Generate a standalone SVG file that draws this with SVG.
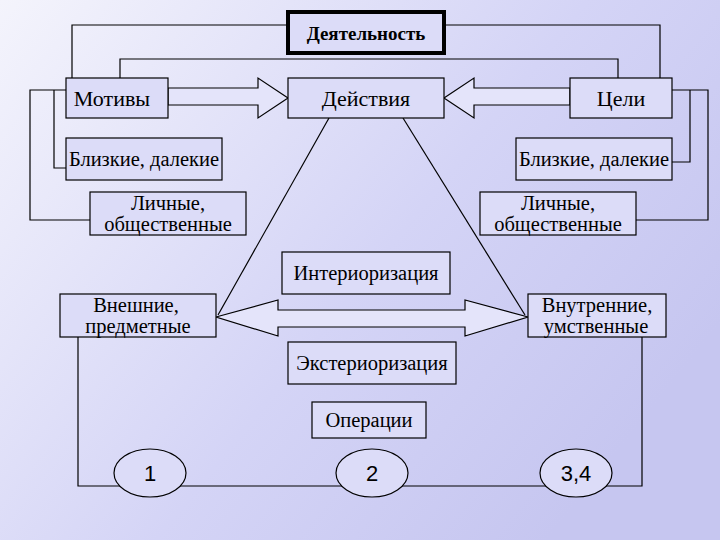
<svg xmlns="http://www.w3.org/2000/svg" width="720" height="540" viewBox="0 0 720 540">
<defs>
<linearGradient id="bg" x1="0" y1="0" x2="1" y2="0.6">
<stop offset="0" stop-color="#f4f4fc"/><stop offset="0.6" stop-color="#d4d4f6"/><stop offset="1" stop-color="#c6c6f0"/>
</linearGradient>
</defs>
<style>
.b{fill:#dcdcf8;stroke:#000;stroke-width:1.2}
.t{font-family:'Liberation Serif','DejaVu Serif',serif;font-size:20.5px;fill:#000;text-anchor:middle}
.c{fill:none;stroke:#000;stroke-width:1.2}
.n{font-family:'Liberation Sans',sans-serif;font-size:22px;fill:#000;text-anchor:middle}
</style>
<rect width="720" height="540" fill="url(#bg)"/>
<g id="connectors">
<polyline class="c" points="288,25 72,25 72,78"/>
<polyline class="c" points="444,25 660,25 660,78"/>
<polyline class="c" points="120,78 120,59 618,59 618,78"/>
<polyline class="c" points="66,90 30,90 30,220 90,220"/>
<polyline class="c" points="54,90 54,168 66,168"/>
<polyline class="c" points="672,90 708,90 708,220 636,220"/>
<polyline class="c" points="690,90 690,162 672,162"/>
<line class="c" x1="329" y1="118" x2="218" y2="315"/>
<line class="c" x1="403" y1="118" x2="525" y2="315"/>
<polygon class="c" points="168,88 258,88 258,78 288,98 258,118 258,105 168,105" style="fill:#e4e4fa"/>
<polygon class="c" points="570,88 474,88 474,78 444,98 474,118 474,105 570,105" style="fill:#e4e4fa"/>
<polygon class="c" points="216,317 278,300 278,310 465,310 465,300 528,317 465,336 465,327 278,327 278,336" style="fill:#e4e4fa"/>
<polyline class="c" points="78,337 78,486 642,486 642,337"/>
</g>
<g id="deyatelnost"><rect class="b" x="288" y="12" width="156" height="41" style="stroke-width:4"/><text class="t" x="366" y="40" font-weight="bold" style="font-size:19px">Деятельность</text></g>
<g id="motivy"><rect class="b" x="66" y="78" width="102" height="40"/><text class="t" x="112" y="106" style="font-size:22px">Мотивы</text></g>
<g id="deystviya"><rect class="b" x="288" y="78" width="156" height="40"/><text class="t" x="366" y="106" style="font-size:22px">Действия</text></g>
<g id="tseli"><rect class="b" x="570" y="78" width="102" height="40"/><text class="t" x="621" y="106" style="font-size:22px">Цели</text></g>
<g id="blizkie-l"><rect class="b" x="66" y="138" width="156" height="42"/><text class="t" x="144" y="166">Близкие, далекие</text></g>
<g id="blizkie-r"><rect class="b" x="516" y="138" width="156" height="42"/><text class="t" x="594" y="166">Близкие, далекие</text></g>
<g id="lichnye-l"><rect class="b" x="90" y="192" width="156" height="43"/><text class="t" x="168" y="210">Личные,</text><text class="t" x="168" y="231">общественные</text></g>
<g id="lichnye-r"><rect class="b" x="480" y="192" width="156" height="43"/><text class="t" x="558" y="210">Личные,</text><text class="t" x="558" y="231">общественные</text></g>
<g id="interior"><rect class="b" x="282" y="252" width="168" height="42"/><text class="t" x="366" y="280">Интериоризация</text></g>
<g id="vneshnie"><rect class="b" x="60" y="294" width="156" height="43"/><text class="t" x="136" y="312">Внешние,</text><text class="t" x="138" y="333">предметные</text></g>
<g id="vnutrennie"><rect class="b" x="528" y="294" width="138" height="43"/><text class="t" x="597" y="312">Внутренние,</text><text class="t" x="596" y="333">умственные</text></g>
<g id="exterior"><rect class="b" x="288" y="342" width="168" height="42"/><text class="t" x="372" y="370">Экстериоризация</text></g>
<g id="operacii"><rect class="b" x="312" y="402" width="114" height="36"/><text class="t" x="369" y="427">Операции</text></g>
<g id="c1"><ellipse class="b" cx="150" cy="473" rx="36" ry="24"/><text class="n" x="150" y="481">1</text></g>
<g id="c2"><ellipse class="b" cx="372" cy="473" rx="36" ry="24"/><text class="n" x="372" y="481">2</text></g>
<g id="c3"><ellipse class="b" cx="576" cy="473" rx="36" ry="24"/><text class="n" x="576" y="481">3,4</text></g>
</svg>
